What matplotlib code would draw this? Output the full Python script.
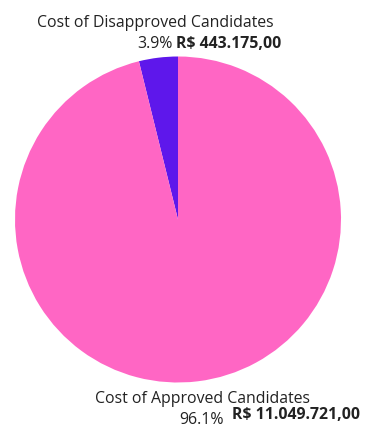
import matplotlib
matplotlib.use("Agg")
import matplotlib.pyplot as plt

labels = ["Cost of Disapproved Candidates", "Cost of Approved Candidates"]
costs = [443175.00, 11049721.00]
colors = ["#5E17EB", "#FF66C4"]

W, H = 366, 425
plt.rcParams["font.family"] = ["Open Sans", "DejaVu Sans"]

fig = plt.figure(figsize=(W / 100, H / 100), dpi=100)
fig.patch.set_facecolor("white")

cx, cy, r = 178, 219.5, 163
ax = fig.add_axes([(cx - r) / W, (H - cy - r) / H, 2 * r / W, 2 * r / H])
ax.pie(costs, colors=colors, startangle=90, counterclock=True,
       radius=1.0, wedgeprops=dict(linewidth=0))
ax.set_xlim(-1, 1)
ax.set_ylim(-1, 1)
ax.set_aspect("equal")
ax.axis("off")

total = sum(costs)


def brl(v):
    s = f"{v:,.2f}"
    return "R$ " + s.replace(",", "X").replace(".", ",").replace("X", ".")


def px(x, y):
    return x / W, 1 - y / H


fs = 11.4
text_color = "#222222"

# Upper label (disapproved)
fig.text(*px(37, 27), labels[0], fontsize=fs, color=text_color,
         ha="left", va="baseline")
fig.text(*px(137, 48), f"{costs[0] / total * 100:.1f}%", fontsize=fs,
         color=text_color, ha="left", va="baseline")
fig.text(*px(176, 48), brl(costs[0]), fontsize=fs, fontweight="bold",
         color=text_color, ha="left", va="baseline")

# Lower label (approved)
fig.text(*px(95, 403), labels[1], fontsize=fs, color=text_color,
         ha="left", va="baseline")
fig.text(*px(179, 424), f"{costs[1] / total * 100:.1f}%", fontsize=fs,
         color=text_color, ha="left", va="baseline")
fig.text(*px(232, 419), brl(costs[1]), fontsize=fs, fontweight="bold",
         color=text_color, ha="left", va="baseline")

fig.savefig("out.png", dpi=100, facecolor="white")
